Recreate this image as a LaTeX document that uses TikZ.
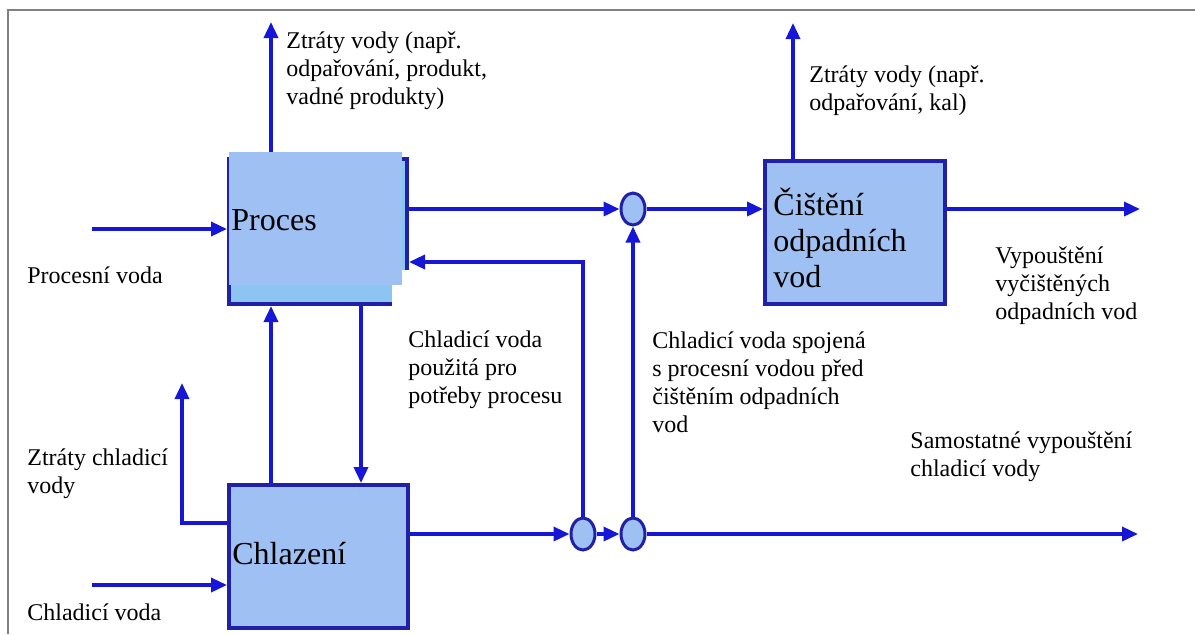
\documentclass[tikz,border=0pt]{standalone}
\usepackage{fontspec}
\setmainfont{Liberation Serif}
\usetikzlibrary{arrows.meta,shapes.geometric}
\definecolor{flowblue}{RGB}{22,22,214}
\definecolor{edgeblue}{RGB}{32,32,168}
\definecolor{boxfill}{RGB}{158,192,243}
\definecolor{stripfill}{RGB}{140,196,242}
\definecolor{framegray}{RGB}{128,128,128}
\begin{document}
\begin{tikzpicture}[x=0.5pt,y=-0.5pt,
  flow/.style={draw=flowblue,line width=1.75pt,-{Triangle[length=8pt,width=7pt]}},
  unit/.style={rectangle,draw=edgeblue,line width=2pt,fill=boxfill,inner sep=0pt,anchor=north west},
  junction/.style={ellipse,draw=edgeblue,line width=1.5pt,fill=boxfill,
    minimum width=12pt,minimum height=16pt,inner sep=0pt},
  % multi-line texts are placed by the baseline of their last line
  txt/.style={anchor=base west,align=left,inner sep=0pt,font=\fontsize{12pt}{14pt}\selectfont},
  unittxt/.style={anchor=base west,align=left,inner sep=0pt,font=\fontsize{16pt}{18pt}\selectfont}]

\useasboundingbox (0,0) rectangle (1195,634);

% frame
\draw[framegray,line width=1pt] (8,634) -- (8,10) -- (1195,10);

% units
\node[unit,fill=stripfill,minimum width=89pt,minimum height=72.5pt] (proc) at (227,157) {};
\node[unit,minimum width=89.5pt,minimum height=71.5pt] (chl) at (227,483) {};
\node[unit,minimum width=90pt,minimum height=71.5pt] (cist) at (763,159) {};

% junctions
\node[junction] (c1) at (633,209) {};
\node[junction] (c2) at (583,534) {};
\node[junction] (c3) at (633,534) {};

% free ends
\coordinate (pin) at (92,229);
\coordinate (ploss) at (271,22);
\coordinate (closs) at (793,23);
\coordinate (cout) at (1140,209);
\coordinate (fb) at (584,262);
\coordinate (dx) at (361,0);
\coordinate (ux) at (271,0);
\coordinate (lx) at (0,523);
\coordinate (lloss) at (182,383);
\coordinate (cin) at (92,585);
\coordinate (sout) at (1138,534);

% process water side
\draw[flow] (pin) -- (proc.west |- pin);
\draw[flow] (proc.north -| ploss) -- (ploss);
\draw[flow] (proc.east |- c1) -- (c1.west);
\draw[flow] (c1.east) -- (cist.west |- c1);
\draw[flow] (cist.north -| closs) -- (closs);
\draw[flow] (cist.east |- cout) -- (cout);

% cooling water side
\draw[flow] (c2.north) -- (c2.north |- fb) -- (proc.east |- fb);
\draw[flow] (c3.north) -- (c1.south);
\draw[flow] (proc.south -| dx) -- (chl.north -| dx);
\draw[flow] (chl.north -| ux) -- (proc.south -| ux);
\draw[flow] (chl.west |- lx) -| (lloss);
\draw[flow] (cin) -- (chl.west |- cin);
\draw[flow] (chl.east |- c2) -- (c2.west);
\draw[flow] (c2.east) -- (c3.west);
\draw[flow] (c3.east) -- (sout);

% retouched face of the process unit
\fill[boxfill] (229,152) rectangle (402,285);
\fill[white] (402,270) rectangle (579,306);
\fill[white] (392,285) rectangle (412,306);

% unit texts
\node[unittxt] (tproc) at (231,230) {Proces};
\node[unittxt] (tchl) at (232,564) {Chlazení};
\node[unittxt] (tcist) at (773,287) {Čištění\\odpadních\\vod};

% flow texts
\node[txt] (t1) at (286,104) {Ztráty vody (např.\\odpařování, produkt,\\vadné produkty)};
\node[txt] (t2) at (809,110) {Ztráty vody (např.\\odpařování, kal)};
\node[txt] (t3) at (995,319) {Vypouštění\\vyčištěných\\odpadních vod};
\node[txt] (t4) at (27,283) {Procesní voda};
\node[txt] (t5) at (408,403) {Chladicí voda\\použitá pro\\potřeby procesu};
\node[txt] (t6) at (652,432) {Chladicí voda spojená\\s procesní vodou před\\čištěním odpadních\\vod};
\node[txt] (t7) at (910,476) {Samostatné vypouštění\\chladicí vody};
\node[txt] (t8) at (27,493) {Ztráty chladicí\\vody};
\node[txt] (t9) at (27,620) {Chladicí voda};
\end{tikzpicture}
\end{document}
